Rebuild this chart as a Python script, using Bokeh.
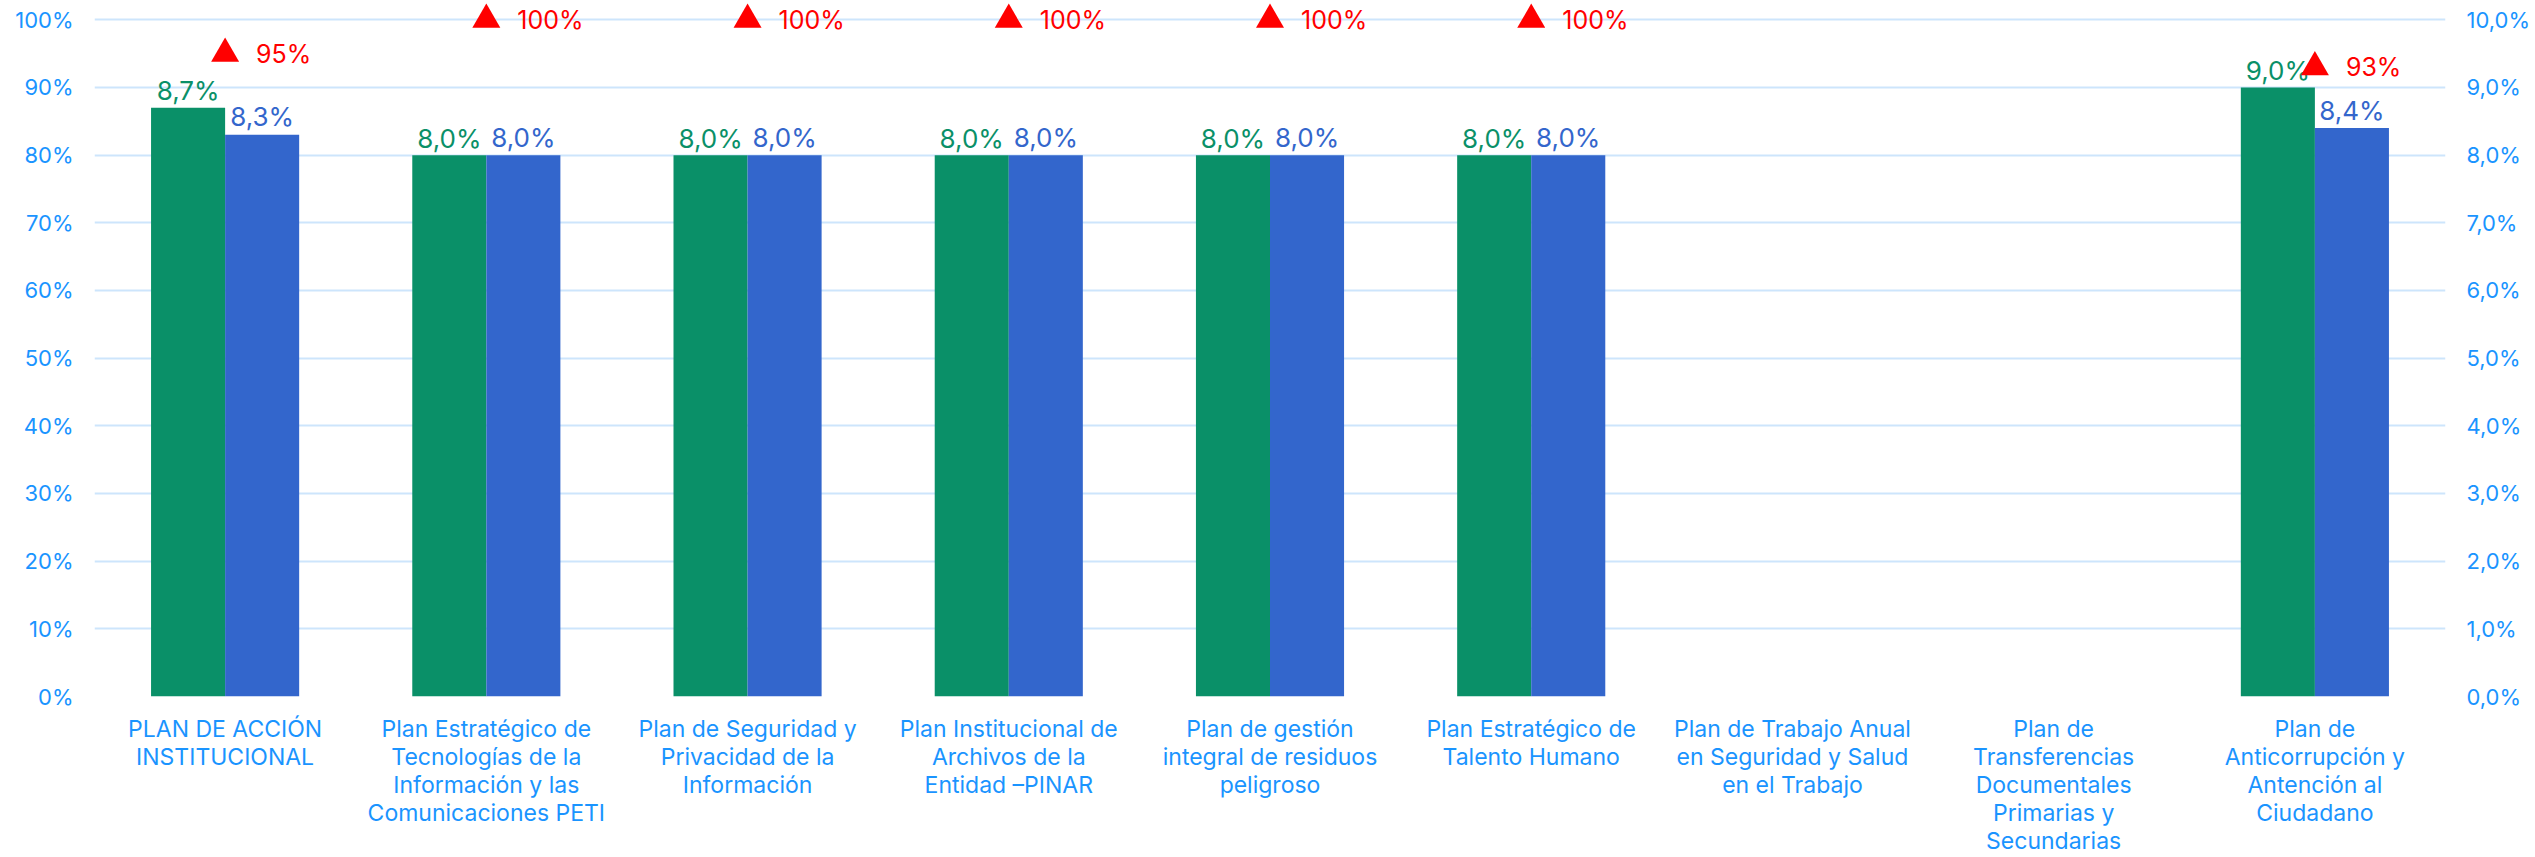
from bokeh.plotting import figure
from bokeh.models import (ColumnDataSource, FactorRange, Range1d, LinearAxis, FixedTicker,
                          CustomJSTickFormatter, Grid, CategoricalAxis)
from bokeh.transform import dodge
from bokeh.core.properties import value
from bokeh.embed import file_html
from bokeh.resources import INLINE

categories = [
    "PLAN DE ACCIÓN\nINSTITUCIONAL",
    "Plan Estratégico de\nTecnologías de la\nInformación y las\nComunicaciones PETI",
    "Plan de Seguridad y\nPrivacidad de la\nInformación",
    "Plan Institucional de\nArchivos de la\nEntidad –PINAR",
    "Plan de gestión\nintegral de residuos\npeligroso",
    "Plan Estratégico de\nTalento Humano",
    "Plan de Trabajo Anual\nen Seguridad y Salud\nen el Trabajo",
    "Plan de\nTransferencias\nDocumentales\nPrimarias y\nSecundarias",
    "Plan de\nAnticorrupción y\nAntención al\nCiudadano",
]
green_vals = [8.7, 8.0, 8.0, 8.0, 8.0, 8.0, 0.0, 0.0, 9.0]
blue_vals = [8.3, 8.0, 8.0, 8.0, 8.0, 8.0, 0.0, 0.0, 8.4]
red_vals = [95, 100, 100, 100, 100, 100, None, None, 93]
left_ticks = [0, 10, 20, 30, 40, 50, 60, 70, 80, 90, 100]
right_ticks = [0, 1, 2, 3, 4, 5, 6, 7, 8, 9, 10]

FONT = "Inter"
GREEN = "#0a9068"
BLUE = "#3366cc"
RED = "#ff0000"
AXIS_TXT = "#1a94ff"
GRID = "#cde5fc"

def fmt(v):
    return ("%.1f" % v).replace(".", ",") + "%"

bar_src = ColumnDataSource(dict(cat=categories, g=green_vals, b=blue_vals))
gl = [(c, v) for c, v in zip(categories, green_vals) if v > 0]
bl = [(c, v) for c, v in zip(categories, blue_vals) if v > 0]
g_src = ColumnDataSource(dict(cat=[c for c, _ in gl], v=[v for _, v in gl], t=[fmt(v) for _, v in gl]))
b_src = ColumnDataSource(dict(cat=[c for c, _ in bl], v=[v for _, v in bl], t=[fmt(v) for _, v in bl]))
rl = [(c, v) for c, v in zip(categories, red_vals) if v is not None]
r_src = ColumnDataSource(dict(cat=[c for c, _ in rl], v=[v for _, v in rl], t=["%d%%" % v for _, v in rl]))

top_r = 10.285

p = figure(width=2535, height=857, x_range=FactorRange(*categories),
           y_range=Range1d(0, top_r), output_backend="svg", toolbar_location=None,
           x_axis_location=None, y_axis_location=None,
           min_border_left=94, min_border_right=90, min_border_top=0, min_border_bottom=158)
p.extra_y_ranges = {"pct": Range1d(0, top_r * 10)}
p.outline_line_color = None
p.background_fill_color = "white"
p.border_fill_color = "white"
p.grid.visible = False

# axes
left = LinearAxis(y_range_name="pct", ticker=FixedTicker(ticks=left_ticks),
                  formatter=CustomJSTickFormatter(code="return tick.toFixed(0) + '%';"))
right = LinearAxis(ticker=FixedTicker(ticks=right_ticks),
                   formatter=CustomJSTickFormatter(code="return tick.toFixed(1).replace('.', ',') + '%';"))
xax = CategoricalAxis()
for ax in (left, right, xax):
    ax.axis_line_color = None
    ax.major_tick_line_color = None
    ax.minor_tick_line_color = None
    ax.major_tick_out = 0
    ax.major_tick_in = 0
    ax.minor_tick_out = 0
    ax.minor_tick_in = 0
    ax.major_label_text_color = AXIS_TXT
    ax.major_label_text_font = FONT
    ax.major_label_text_font_size = "22px"
left.major_label_standoff = 21
right.major_label_standoff = 21
xax.major_label_text_font_size = "23px"
xax.major_label_standoff = 18
xax.major_label_text_line_height = 1.0
p.add_layout(left, "left")
p.add_layout(right, "right")
p.add_layout(xax, "below")
p.add_layout(Grid(dimension=1, ticker=right.ticker, grid_line_color=GRID, grid_line_width=2))

W = 0.2835
p.vbar(x=dodge("cat", -W / 2, range=p.x_range), top="g", width=W, bottom=0, source=bar_src,
       fill_color=GREEN, line_color=None)
p.vbar(x=dodge("cat", W / 2, range=p.x_range), top="b", width=W, bottom=0, source=bar_src,
       fill_color=BLUE, line_color=None)

p.text(x=dodge("cat", -W / 2, range=p.x_range), y="v", text="t", source=g_src,
       text_color=GREEN, text_font=value(FONT), text_font_size="26px",
       text_align="center", text_baseline="alphabetic", y_offset=-17)
p.text(x=dodge("cat", W / 2, range=p.x_range), y="v", text="t", source=b_src,
       text_color=BLUE, text_font=value(FONT), text_font_size="26px",
       text_align="center", text_baseline="alphabetic", y_offset=-18)

p.scatter(x="cat", y="v", source=r_src, y_range_name="pct", marker="triangle",
          size=28, fill_color=RED, line_color=None)
p.text(x="cat", y="v", text="t", source=r_src, y_range_name="pct",
       text_color=RED, text_font=value(FONT), text_font_size="25px",
       text_align="left", text_baseline="middle", x_offset=31)

open("out.html", "w").write(file_html(p, INLINE))
